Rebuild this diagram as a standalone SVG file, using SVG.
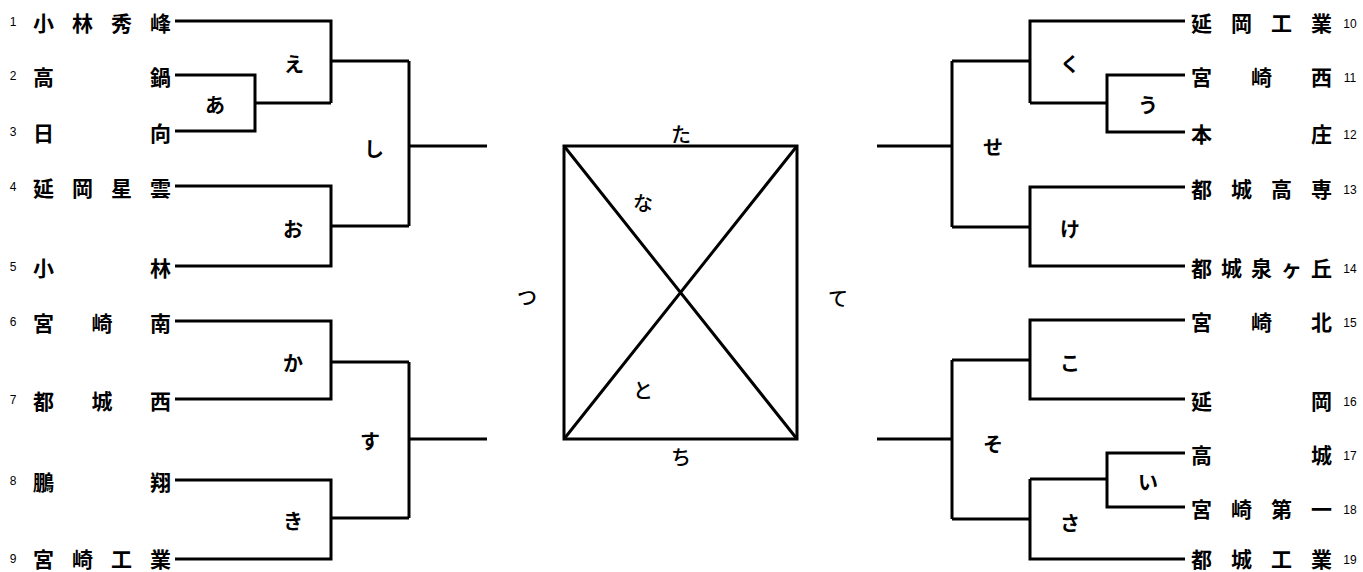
<svg xmlns="http://www.w3.org/2000/svg" width="1363" height="572" viewBox="0 0 1363 572">
<style>
.n{font-family:"Noto Sans CJK JP","Noto Sans CJK SC",sans-serif;font-weight:bold;font-size:21px;fill:#000;dominant-baseline:central}
.k{font-family:"Noto Sans CJK JP","Noto Sans CJK SC",sans-serif;font-weight:bold;font-size:20px;fill:#000;text-anchor:middle;dominant-baseline:central}
.c{font-family:"Noto Sans CJK JP","Noto Sans CJK SC",sans-serif;font-weight:500;font-size:20px;fill:#000;text-anchor:middle;dominant-baseline:central}
.num{font-family:"Liberation Sans",Arial,sans-serif;font-size:12px;fill:#000;text-anchor:middle;dominant-baseline:central}
.ln{fill:none;stroke:#000;stroke-width:3}
</style>
<rect width="1363" height="572" fill="#fff"/>
<g id="connectors" class="ln">
<path d="M175 21H331V103"/>
<path d="M175 75H255V131H175"/>
<path d="M255 103H331"/>
<path d="M331 61H409"/>
<path d="M175 186H331V266H175"/>
<path d="M331 226H409"/>
<path d="M409 61V226"/>
<path d="M409 146H487"/>
<path d="M175 321H331V399H175"/>
<path d="M331 362H409"/>
<path d="M175 480H331V559H175"/>
<path d="M331 518H409"/>
<path d="M409 362V518"/>
<path d="M409 439H487"/>
<rect x="564" y="146" width="233" height="293"/>
<path d="M564 146L797 439M797 146L564 439"/>
<path d="M1185 21H1030V103"/>
<path d="M1185 75H1107V132H1185"/>
<path d="M1107 103H1030"/>
<path d="M1030 61H952"/>
<path d="M1185 187H1030V266H1185"/>
<path d="M1030 227H952"/>
<path d="M952 61V227"/>
<path d="M952 146H877"/>
<path d="M1185 320H1030V399H1185"/>
<path d="M1030 360H952"/>
<path d="M1185 453H1107V507H1185"/>
<path d="M1107 479H1030"/>
<path d="M1030 479V559H1185"/>
<path d="M1030 519H952"/>
<path d="M952 360V519"/>
<path d="M952 439H877"/>
</g>
<g id="team1"><text class="num" x="13" y="22">1</text><text class="n" x="33 72 111 150" y="22">小林秀峰</text></g>
<g id="team2"><text class="num" x="13" y="76">2</text><text class="n" x="33 150" y="76">高鍋</text></g>
<g id="team3"><text class="num" x="13" y="132">3</text><text class="n" x="33 150" y="132">日向</text></g>
<g id="team4"><text class="num" x="13" y="187">4</text><text class="n" x="33 72 111 150" y="187">延岡星雲</text></g>
<g id="team5"><text class="num" x="13" y="267">5</text><text class="n" x="33 150" y="267">小林</text></g>
<g id="team6"><text class="num" x="13" y="322">6</text><text class="n" x="33 91.5 150" y="322">宮崎南</text></g>
<g id="team7"><text class="num" x="13" y="400">7</text><text class="n" x="33 91.5 150" y="400">都城西</text></g>
<g id="team8"><text class="num" x="13" y="481">8</text><text class="n" x="33 150" y="481">鵬翔</text></g>
<g id="team9"><text class="num" x="13" y="559">9</text><text class="n" x="33 72 111 150" y="558">宮崎工業</text></g>
<g id="team10"><text class="n" x="1191 1231 1271 1311" y="22">延岡工業</text><text class="num" x="1350" y="24">10</text></g>
<g id="team11"><text class="n" x="1191 1251 1311" y="76">宮崎西</text><text class="num" x="1350" y="78">11</text></g>
<g id="team12"><text class="n" x="1191 1311" y="133">本庄</text><text class="num" x="1350" y="135">12</text></g>
<g id="team13"><text class="n" x="1191 1231 1271 1311" y="188">都城高専</text><text class="num" x="1350" y="190">13</text></g>
<g id="team14"><text class="n" x="1191 1221 1251 1281 1311" y="267">都城泉ヶ丘</text><text class="num" x="1350" y="269">14</text></g>
<g id="team15"><text class="n" x="1191 1251 1311" y="321">宮崎北</text><text class="num" x="1350" y="323">15</text></g>
<g id="team16"><text class="n" x="1191 1311" y="400">延岡</text><text class="num" x="1350" y="402">16</text></g>
<g id="team17"><text class="n" x="1191 1311" y="454">高城</text><text class="num" x="1350" y="456">17</text></g>
<g id="team18"><text class="n" x="1191 1231 1271 1311" y="508">宮崎第一</text><text class="num" x="1350" y="510">18</text></g>
<g id="team19"><text class="n" x="1191 1231 1271 1311" y="558">都城工業</text><text class="num" x="1350" y="560">19</text></g>
<g id="m-a"><text class="k" x="215" y="104">あ</text></g>
<g id="m-e"><text class="k" x="294" y="63">え</text></g>
<g id="m-o"><text class="k" x="293" y="228">お</text></g>
<g id="m-shi"><text class="k" x="374" y="148">し</text></g>
<g id="m-ka"><text class="k" x="293" y="362">か</text></g>
<g id="m-ki"><text class="k" x="293" y="520">き</text></g>
<g id="m-su"><text class="k" x="370" y="440">す</text></g>
<g id="m-u"><text class="k" x="1148" y="104">う</text></g>
<g id="m-ku"><text class="k" x="1070" y="63">く</text></g>
<g id="m-ke"><text class="k" x="1070" y="228">け</text></g>
<g id="m-se"><text class="k" x="993" y="146">せ</text></g>
<g id="m-ko"><text class="k" x="1070" y="362">こ</text></g>
<g id="m-i"><text class="k" x="1148" y="481">い</text></g>
<g id="m-sa"><text class="k" x="1070" y="522">さ</text></g>
<g id="m-so"><text class="k" x="993" y="443">そ</text></g>
<g id="m-tsu"><text class="c" x="527" y="296">つ</text></g>
<g id="m-te"><text class="c" x="838" y="297">て</text></g>
<g id="m-ta"><text class="c" x="681" y="133">た</text></g>
<g id="m-chi"><text class="c" x="681" y="456">ち</text></g>
<g id="m-na"><text class="c" x="643" y="202">な</text></g>
<g id="m-to"><text class="c" x="643" y="389">と</text></g>
</svg>
